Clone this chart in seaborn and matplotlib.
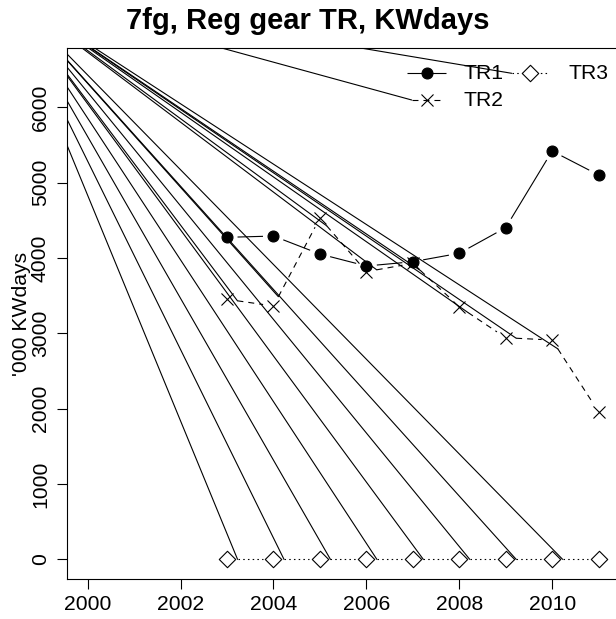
import numpy as np
import matplotlib
matplotlib.use("Agg")
import matplotlib.pyplot as plt
import seaborn as sns

# ---- data -------------------------------------------------------------
years = [2003, 2004, 2005, 2006, 2007, 2008, 2009, 2010, 2011]
tr1 = [4276, 4293, 4054, 3895, 3952, 4064, 4404, 5422, 5104]
tr2 = [3453, 3364, 4533, 3820, 3930, 3355, 2943, 2912, 1960]
tr3 = [0, 0, 0, 0, 0, 0, 0, 0, 0]
series_names = ["TR1", "TR2", "TR3"]
stray_origin = (1998.16, 7587)          # common start of the stray path strokes
x_ticks = [2000, 2002, 2004, 2006, 2008, 2010]
y_ticks = [0, 1000, 2000, 3000, 4000, 5000, 6000]
title = "7fg, Reg gear TR, KWdays"
y_label = "'000 KWdays"

# ---- style ------------------------------------------------------------
sns.set_theme(style="white")
plt.rcParams["font.family"] = ["Liberation Sans", "DejaVu Sans"]
plt.rcParams["lines.scale_dashes"] = False

W, H, DPI = 616, 619, 100
fig = plt.figure(figsize=(W / DPI, H / DPI), dpi=DPI)
fig.patch.set_facecolor("white")

# plot region in pixels (left, top, right, bottom); right edge lies past the image
L, T, R, B = 67.3, 48.3, 619.0, 579.3
ax = fig.add_axes([L / W, 1 - B / H, (R - L) / W, (B - T) / H])
ax.set_facecolor("white")
ax.set_xlim(1999.56, 2011.44)
ax.set_ylim(-265, 6786)

LW = 0.8
GAP = 10.5  # px gap left around each point by the connecting segments
DASH = (0, (4.3, 3.6))
DOT = (0, (1.1, 2.3))
FS = 15.2


def gapped_segments(xs, ys, gap):
    pts = ax.transData.transform(np.column_stack([xs, ys]))
    inv = ax.transData.inverted()
    segs = []
    for p, q in zip(pts[:-1], pts[1:]):
        d = q - p
        n = np.hypot(*d)
        if n <= 2 * gap:
            continue
        u = d / n
        segs.append(inv.transform(np.array([p + u * gap, q - u * gap])))
    return segs


styles = {
    "TR1": dict(ls="-", marker="o", s=62, fc="black", ec="black", lw_m=0.8),
    "TR2": dict(ls=DASH, marker="x", s=75, fc="black", ec="black", lw_m=0.8),
    "TR3": dict(ls=DOT, marker="D", s=70, fc="white", ec="black", lw_m=0.8),
}
values = {"TR1": tr1, "TR2": tr2, "TR3": tr3}

seg_starts = []
for name in series_names:
    st = styles[name]
    segs = gapped_segments(years, values[name], GAP)
    for sg in segs:
        ax.plot(sg[:, 0], sg[:, 1], color="black", lw=LW, ls=st["ls"],
                solid_capstyle="butt", dash_capstyle="butt")
        if name != "TR1":
            seg_starts.append(sg[0])
    if st["marker"] == "x":
        sns.scatterplot(x=years, y=values[name], marker="x", s=st["s"],
                        color="black", linewidth=st["lw_m"], ax=ax, zorder=3)
    else:
        sns.scatterplot(x=years, y=values[name], marker=st["marker"], s=st["s"],
                        facecolor=st["fc"], edgecolor=st["ec"],
                        linewidth=st["lw_m"], ax=ax, zorder=3)

# ---- legend (two columns, no box) ----------------------------------------
def ax_px(px, py):
    return ((px - L) / (R - L), (B - py) / (B - T))

tA = ax.transAxes
leg_rows = {"TR1": (406.7, 445.7, 426.7, 73.3, 463.0),
            "TR2": (411.7, 441.7, 426.7, 100.0, 463.0),
            "TR3": (511.7, 547.0, 529.5, 73.3, 568.3)}
for name in series_names:
    x0, x1, xm, yy, xt = leg_rows[name]
    st = styles[name]
    a0 = ax_px(x0, yy)
    a1 = ax_px(x1, yy)
    am = ax_px(xm, yy)
    ax.plot([a0[0], a1[0]], [a0[1], a1[1]], transform=tA, color="black",
            lw=LW, ls=st["ls"], solid_capstyle="butt")
    if st["marker"] == "x":
        ax.scatter([am[0]], [am[1]], transform=tA, marker="x", s=st["s"],
                   color="black", linewidth=st["lw_m"], zorder=3)
    else:
        ax.scatter([am[0]], [am[1]], transform=tA, marker=st["marker"],
                   s=st["s"], facecolor=st["fc"], edgecolor=st["ec"],
                   linewidth=st["lw_m"], zorder=3)
    at = ax_px(xt, yy)
    ax.text(at[0], at[1], name, transform=tA, fontsize=FS,
            ha="left", va="center", color="black")
    if name != "TR1":
        seg_starts.append(ax.transData.inverted().transform(
            tA.transform(a0)))

# stray strokes from the common origin to every dashed/dotted path start
for sx, sy in seg_starts:
    ax.plot([stray_origin[0], sx], [stray_origin[1], sy], color="black",
            lw=LW, ls="-", zorder=1)

# ---- axes -------------------------------------------------------------
ax.set_xticks(x_ticks)
ax.set_xticklabels([str(v) for v in x_ticks])
ax.set_yticks(y_ticks)
ax.set_yticklabels([str(v) for v in y_ticks])
ax.tick_params(axis="both", direction="out", length=7.5, width=0.8,
               color="black", labelsize=FS, labelcolor="black", pad=4,
               bottom=True, left=True)
ax.tick_params(axis="y", labelrotation=90, pad=5)
for lab in ax.get_yticklabels():
    lab.set_va("center")
for side in ["left", "bottom", "top", "right"]:
    ax.spines[side].set_color("black")
    ax.spines[side].set_linewidth(0.8)
    ax.spines[side].set_visible(True)

ax.set_ylabel(y_label, fontsize=FS, color="black")
ax.yaxis.set_label_coords((22 - L) / (R - L), 0.5)
ax.yaxis.label.set_va("center")

fig.text(0.5, 1 - 21 / H, title, ha="center", va="center",
         fontsize=21, fontweight="bold", color="black")

fig.savefig("out.png", dpi=DPI, facecolor="white")
